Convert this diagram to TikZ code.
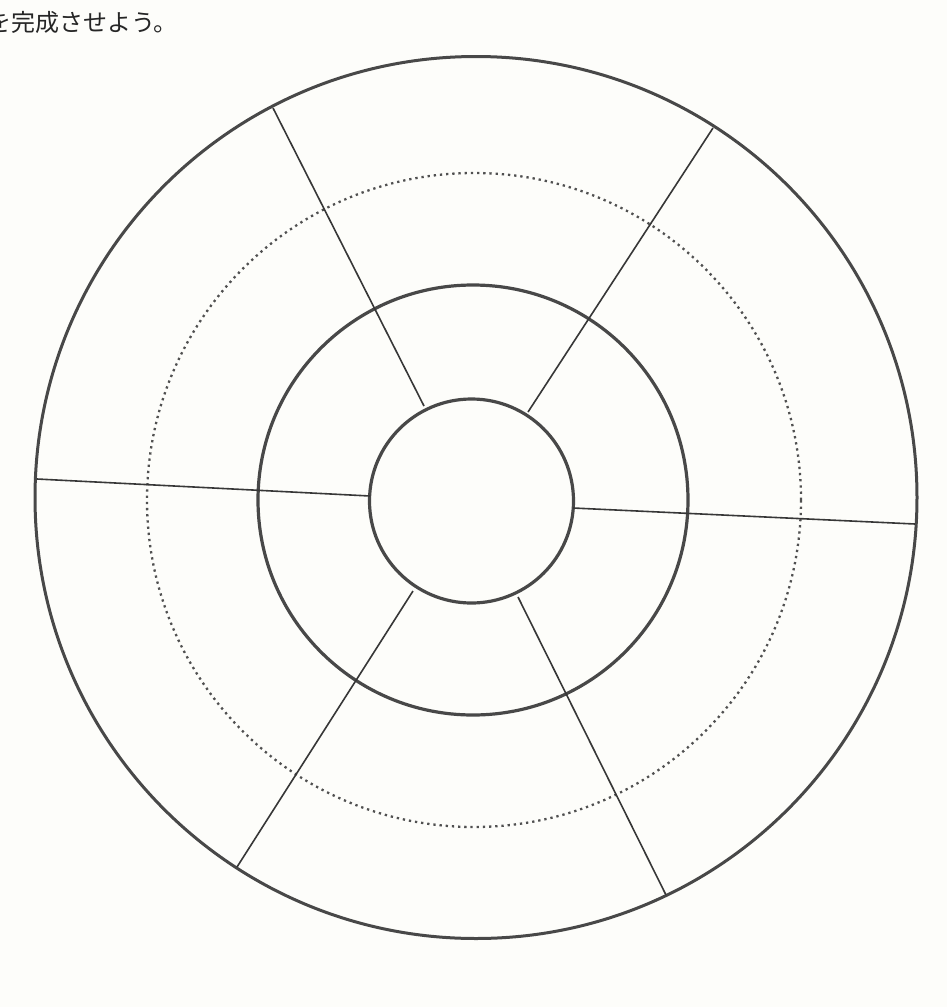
\documentclass[tikz,border=0pt]{standalone}
\usepackage{fontspec}
\newfontfamily\jpfont{Noto Sans CJK JP}
\definecolor{ink}{RGB}{72,72,72}
\definecolor{spokeink}{RGB}{55,55,55}
\definecolor{dotink}{RGB}{80,80,80}
\definecolor{paper}{RGB}{253,253,250}
\begin{document}
\begin{tikzpicture}[x=1pt,y=-1pt,
  ring/.style={draw=ink, line width=3.2pt},
  outerring/.style={draw=ink, line width=3pt},
  dotring/.style={draw=dotink, line width=2.3pt, dash pattern=on 2.3pt off 3.9pt},
  spoke/.style={draw=spokeink, line width=1.6pt},
  title/.style={font=\jpfont\fontsize{24}{24}\selectfont, text=black!85, inner sep=0pt, anchor=west}]
\useasboundingbox (0,0) rectangle (947,1007);
\fill[paper] (0,0) rectangle (947,1007);
% centres
\coordinate (cOut) at (476,497.5);
\coordinate (cDot) at (474,500);
\coordinate (cMid) at (473,500);
\coordinate (cIn) at (471.5,501);
% rings
\draw[outerring] (cOut) circle[radius=441pt];
\draw[dotring] (cDot) circle[radius=327pt];
\draw[ring] (cMid) circle[radius=215pt];
\draw[ring] (cIn) circle[radius=102pt];
% spoke end points
\coordinate (ulO) at (273,108);   \coordinate (ulI) at (424,406);
\coordinate (urO) at (713,128);   \coordinate (urI) at (528,412);
\coordinate (lO) at (37,479);     \coordinate (lI) at (370,496);
\coordinate (rO) at (915,524);    \coordinate (rI) at (573,508);
\coordinate (llO) at (237,867);   \coordinate (llI) at (413,591);
\coordinate (lrO) at (666,895);   \coordinate (lrI) at (518,597);
\draw[spoke] (ulO) -- (ulI);
\draw[spoke] (urO) -- (urI);
\draw[spoke] (lO) -- (lI);
\draw[spoke] (rI) -- (rO);
\draw[spoke] (llI) -- (llO);
\draw[spoke] (lrI) -- (lrO);
% title text (cut at the left edge, as in the reference)
\node[title] (titletext) at (-13,22) {を完成させよう。};
\end{tikzpicture}
\end{document}
